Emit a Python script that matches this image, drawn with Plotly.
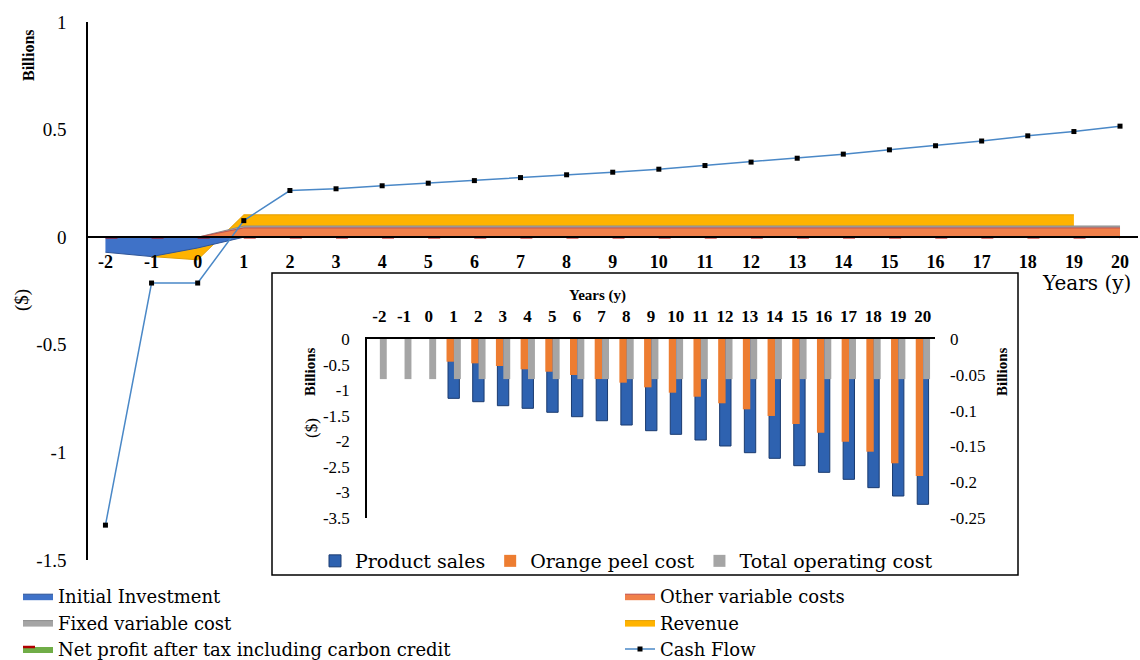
import plotly.graph_objects as go

W, H = 1140, 660
def px(x):
    return x / W
def py(y):
    return 1 - y / H

FONT = "Liberation Serif"
WIDE = "DejaVu Serif"

# ---------------- data (billions $) ----------------
years = list(range(-2, 21))
year_labels = [str(y) for y in years]

# main chart
cash_flow = [-1.338, -0.213, -0.213, 0.077, 0.217, 0.225, 0.239, 0.251, 0.263, 0.277,
             0.290, 0.302, 0.316, 0.333, 0.349, 0.367, 0.386, 0.406, 0.425, 0.447,
             0.471, 0.491, 0.516]
inv_years = [-2, -1, 0, 1]
initial_investment = [-0.07, -0.09, -0.05, 0.0]
cost_years = list(range(0, 21))
other_variable_costs = [0.0] + [0.043] * 20
fixed_variable_cost = [0.0] + [0.052] * 20
rev_years = list(range(-2, 20))
revenue = [0.0, -0.09, -0.105] + [0.104] * 19
net_profit = [0.0] * 23

# inset chart
product_sales = [None, None, None, -1.160, -1.226, -1.304, -1.355, -1.433, -1.519, -1.598,
                 -1.682, -1.793, -1.864, -1.975, -2.092, -2.223, -2.333, -2.477, -2.607,
                 -2.744, -2.907, -3.070, -3.233]
orange_peel_cost = [None, None, None, -0.0317, -0.0340, -0.0377, -0.0423, -0.0457, -0.0503,
                    -0.0559, -0.0610, -0.0675, -0.0750, -0.0806, -0.0898, -0.0982, -0.1075,
                    -0.1187, -0.1309, -0.1434, -0.1574, -0.1736, -0.1913]
total_operating_cost = [-0.056] * 23

main_y_ticks = [-1.5, -1, -0.5, 0, 0.5, 1]
main_y_text = ["-1.5", "-1", "-0.5", "0", "0.5", "1"]
inset_left_ticks = [0, -0.5, -1, -1.5, -2, -2.5, -3, -3.5]
inset_left_text = ["0", "-0.5", "-1", "-1.5", "-2", "-2.5", "-3", "-3.5"]
inset_right_ticks = [0, -0.05, -0.1, -0.15, -0.2, -0.25]
inset_right_text = ["0", "-0.05", "-0.1", "-0.15", "-0.2", "-0.25"]

fig = go.Figure()

# ---------------- main areas (back to front) ----------------
fig.add_trace(go.Scatter(x=rev_years, y=revenue, name="Revenue", mode="lines",
                         fill="tozeroy", fillcolor="#FFB300",
                         line=dict(color="#E39E00", width=1),
                         legend="legend3", legendrank=2))
fig.add_trace(go.Scatter(x=cost_years, y=fixed_variable_cost, name="Fixed variable cost",
                         mode="lines", fill="tozeroy", fillcolor="#A5A5A5",
                         line=dict(color="#8C8C8C", width=1),
                         legend="legend", legendrank=2))
fig.add_trace(go.Scatter(x=cost_years, y=other_variable_costs, name="Other variable costs",
                         mode="lines", fill="tozeroy", fillcolor="#F0804A",
                         line=dict(color="#C0504D", width=1),
                         legend="legend3", legendrank=1))
fig.add_trace(go.Scatter(x=inv_years, y=initial_investment, name="Initial Investment",
                         mode="lines", fill="tozeroy", fillcolor="#3F72C8",
                         line=dict(color="#2F5597", width=1),
                         legend="legend", legendrank=1))
fig.add_trace(go.Scatter(x=years, y=net_profit,
                         name="Net profit after tax including carbon credit",
                         mode="lines", fill="tozeroy", fillcolor="#70AD47",
                         line=dict(color="#B00000", width=2.5, dash="12px,34.1px"),
                         legend="legend", legendrank=3))
fig.add_trace(go.Scatter(x=years, y=cash_flow, name="Cash Flow", mode="lines+markers",
                         line=dict(color="#4A88C7", width=1.5),
                         marker=dict(symbol="square", size=5, color="black"),
                         legend="legend3", legendrank=3))

# ---------------- inset bars ----------------
fig.add_trace(go.Bar(x=years, y=product_sales, name="Product sales", xaxis="x2", yaxis="y2",
                     width=0.46, offset=-0.22,
                     marker=dict(color="#2E62B0", line=dict(color="#1A3B70", width=1)),
                     legend="legend2"))
fig.add_trace(go.Bar(x=years, y=orange_peel_cost, name="Orange peel cost", xaxis="x2",
                     yaxis="y3", width=0.30, offset=-0.28,
                     marker=dict(color="#ED7D31", line=dict(width=0)),
                     legend="legend2"))
fig.add_trace(go.Bar(x=years, y=total_operating_cost, name="Total operating cost",
                     xaxis="x2", yaxis="y3", width=0.28, offset=0.02,
                     marker=dict(color="#A5A5A5", line=dict(width=0)),
                     legend="legend2"))

def note(text, x, y, size, angle=0, family=FONT, weight="normal"):
    return dict(text=text, xref="paper", yref="paper", x=px(x), y=py(y),
                xanchor="center", yanchor="middle", showarrow=False, textangle=angle,
                font=dict(size=size, family=family, weight=weight))

fig.update_layout(
    width=W, height=H,
    margin=dict(l=0, r=0, t=0, b=0, autoexpand=False),
    paper_bgcolor="white", plot_bgcolor="white",
    barmode="overlay",
    font=dict(family=FONT, color="black"),
    xaxis=dict(domain=[px(87), px(1138)], range=[-2.4, 20.39], anchor="free",
               position=py(237.3), tickvals=years, ticktext=year_labels,
               tickfont=dict(size=18, family=FONT, weight="bold"),
               showline=True, linecolor="black", linewidth=1.5, ticks="",
               showgrid=False, zeroline=False, ticklabelstandoff=8),
    yaxis=dict(domain=[py(560), py(22)], range=[-1.5, 1], anchor="free", position=px(87),
               tickvals=main_y_ticks, ticktext=main_y_text,
               tickfont=dict(size=19, family=FONT),
               showline=True, linecolor="black", linewidth=1.5, ticks="",
               showgrid=False, zeroline=False, ticklabelstandoff=16),
    xaxis2=dict(domain=[px(367), px(935)], range=[-2.5, 20.5], anchor="y2", side="top",
                tickvals=years, ticktext=year_labels,
                tickfont=dict(size=17, family=FONT, weight="bold"),
                showline=True, linecolor="black", linewidth=1.5, ticks="",
                showgrid=False, zeroline=False, ticklabelstandoff=8),
    yaxis2=dict(domain=[py(518), py(339)], range=[-3.5, 0], anchor="x2",
                tickvals=inset_left_ticks, ticktext=inset_left_text,
                tickfont=dict(size=17, family=FONT),
                showline=True, linecolor="black", linewidth=1.5, ticks="",
                showgrid=False, zeroline=False, ticklabelstandoff=12),
    yaxis3=dict(range=[-0.25, 0], anchor="x2", overlaying="y2", side="right",
                tickvals=inset_right_ticks, ticktext=inset_right_text,
                tickfont=dict(size=17, family=FONT),
                showline=False, ticks="", showgrid=False, zeroline=False,
                ticklabelstandoff=14),
    legend=dict(orientation="v", x=px(18), y=py(578), xanchor="left", yanchor="top",
                font=dict(size=18, family=WIDE), bgcolor="rgba(0,0,0,0)",
                tracegroupgap=0, itemwidth=30, traceorder="normal"),
    legend3=dict(orientation="v", x=px(620), y=py(578), xanchor="left", yanchor="top",
                 font=dict(size=18, family=WIDE), bgcolor="rgba(0,0,0,0)",
                 tracegroupgap=0, itemwidth=30, traceorder="normal"),
    legend2=dict(orientation="h", x=px(315), y=py(542), xanchor="left", yanchor="top",
                 font=dict(size=19, family=WIDE), bgcolor="rgba(0,0,0,0)", itemwidth=30),
    shapes=[dict(type="rect", xref="paper", yref="paper", x0=px(272), x1=px(1018),
                 y0=py(575), y1=py(273), line=dict(color="black", width=1.5),
                 fillcolor="white", layer="below")],
    annotations=[
        note("Billions", 28, 55, 16, -90, weight="bold"),
        note("($)", 22, 300, 19, -90),
        note("Years (y)", 1086, 283, 20, family=WIDE),
        note("Years (y)", 597, 295, 15, weight="bold"),
        note("Billions", 310, 372, 15, -90, weight="bold"),
        note("($)", 311, 428, 17, -90),
        note("Billions", 1002, 372, 15, -90, weight="bold"),
    ],
)

fig.write_html("out.html", config={"displayModeBar": False},
               post_script="document.body.style.margin='0';")
